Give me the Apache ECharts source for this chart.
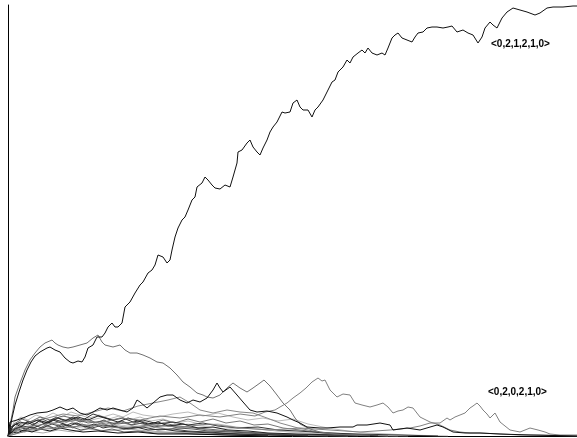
<!DOCTYPE html>
<html>
<head>
<meta charset="utf-8">
<script src="https://cdn.jsdelivr.net/npm/echarts@6/dist/echarts.min.js"></script>
<style>
  html, body { margin: 0; padding: 0; background: #fff; }
  #main { width: 577px; height: 438px; }
</style>
</head>
<body>
<div id="main"></div>
<script>
// runs: [step, value]
var topRun = [[1,2],[4,18],[7,31],[11,44],[15,56],[19,66],[23,74],[27,80],[32,84],[39,88],[42,89],[47,86],[52,84],[57,78],[62,74],[65,73],[70,75],[74,74],[77,79],[80,88],[85,91],[89,99],[94,99],[97,103],[100,109],[104,113],[107,109],[110,109],[114,113],[117,129],[122,134],[127,143],[132,151],[135,154],[140,163],[144,166],[147,171],[150,181],[155,179],[159,173],[162,176],[164,186],[167,199],[170,208],[174,216],[177,219],[180,226],[184,236],[187,239],[189,249],[194,253],[197,259],[200,256],[204,251],[207,248],[212,247],[217,251],[222,249],[225,259],[229,273],[230,284],[234,286],[239,293],[242,296],[245,289],[249,284],[252,281],[255,288],[259,296],[262,304],[265,309],[269,314],[274,324],[277,323],[282,324],[285,333],[289,336],[292,329],[295,326],[300,326],[304,319],[307,326],[310,329],[315,336],[319,344],[324,354],[327,356],[330,364],[335,369],[339,376],[342,373],[345,379],[350,383],[354,386],[357,383],[360,388],[364,383],[369,381],[374,383],[377,381],[380,388],[384,398],[387,401],[390,403],[394,398],[399,396],[404,394],[407,399],[410,403],[415,404],[419,408],[424,409],[429,409],[435,408],[440,409],[444,410],[449,404],[455,406],[460,403],[465,401],[470,393],[474,399],[477,408],[482,414],[485,411],[489,408],[494,418],[499,424],[505,428],[512,426],[519,424],[527,421],[532,423],[539,428],[545,429],[555,429],[565,430],[569,430]];

var humpRun = [[0,0],[2,11],[5,26],[7,39],[12,53],[17,66],[22,76],[27,83],[32,89],[37,93],[44,96],[47,93],[50,91],[55,89],[60,88],[65,89],[72,91],[79,93],[85,98],[90,101],[94,94],[97,91],[105,89],[112,91],[117,86],[122,83],[129,83],[135,81],[142,78],[149,74],[155,73],[162,68],[169,61],[175,54],[182,49],[189,43],[195,41],[199,39],[205,38],[212,41],[219,48],[225,53],[232,48],[239,44],[245,48],[252,53],[256,56],[262,50],[269,41],[275,33],[282,26],[287,18],[292,12],[302,7],[312,4],[327,2],[342,1],[362,0]];

var midGrayRun = [[0,0],[12,8],[32,11],[52,14],[72,16],[92,13],[112,18],[132,16],[152,20],[172,18],[192,21],[212,19],[232,22],[247,20],[257,24],[267,26],[272,29],[279,33],[285,38],[292,43],[298,48],[304,54],[310,58],[314,55],[317,56],[322,46],[329,39],[335,42],[342,41],[347,33],[354,31],[362,29],[369,31],[375,33],[380,29],[385,23],[390,25],[395,26],[400,29],[405,28],[412,19],[422,14],[432,11],[442,6],[452,4],[462,3],[472,3],[492,2],[512,1],[532,1],[569,0]];

var rightGrayRun = [[0,0],[22,6],[52,8],[82,11],[112,8],[142,11],[172,9],[202,12],[232,8],[262,6],[292,8],[322,6],[352,4],[382,6],[402,8],[412,10],[422,13],[432,13],[439,18],[442,16],[447,19],[452,21],[457,23],[462,28],[465,30],[469,33],[472,30],[475,26],[479,22],[482,18],[487,23],[492,14],[497,10],[502,6],[512,4],[517,6],[522,8],[530,6],[537,4],[542,2],[552,1],[569,1]];

var midBlackRun = [[0,0],[2,14],[9,16],[15,18],[22,21],[29,23],[39,24],[45,26],[52,29],[59,26],[65,28],[72,23],[79,21],[85,24],[92,28],[99,26],[105,28],[112,26],[119,24],[125,28],[129,36],[132,34],[139,28],[145,33],[152,39],[159,41],[165,41],[172,36],[179,33],[185,36],[192,34],[199,38],[205,46],[209,53],[212,48],[215,44],[222,49],[229,41],[235,34],[242,26],[249,24],[259,25],[269,23],[279,19],[285,16],[292,13],[299,9],[312,8],[319,8],[332,9],[345,9],[349,11],[359,11],[372,13],[382,11],[385,6],[399,8],[412,6],[429,11],[435,9],[445,4],[457,3],[472,3],[492,2],[522,1],[569,0]];

var lowRunA = [[0,0],[5,10],[12,14],[20,12],[30,16],[40,13],[50,18],[60,15],[70,19],[80,16],[90,20],[100,17],[110,14],[120,18],[130,15],[140,12],[150,14],[160,10],[175,12],[190,8],[205,9],[220,6],[240,5],[260,3],[290,2],[330,1],[370,0]];
var lowRunB = [[0,0],[6,8],[15,12],[25,10],[35,15],[45,12],[60,17],[75,14],[92,18],[105,22],[115,19],[125,24],[135,21],[150,19],[165,22],[180,24],[195,20],[210,23],[225,19],[240,16],[255,18],[270,15],[285,17],[300,12],[320,8],[340,5],[360,3],[400,1],[440,0]];
var lowRunC = [[0,0],[4,6],[10,9],[18,7],[26,11],[34,8],[44,12],[54,9],[64,13],[74,10],[84,8],[95,11],[108,9],[120,7],[135,9],[150,6],[165,7],[180,5],[200,4],[230,2],[260,1],[300,0]];
var lowRunD = [[0,0],[5,5],[12,9],[22,6],[30,10],[40,14],[52,11],[62,15],[72,12],[85,10],[98,13],[110,10],[125,8],[140,10],[160,7],[180,9],[200,6],[220,4],[250,3],[280,1],[320,0]];
var lowRunE = [[0,0],[8,4],[18,7],[28,5],[38,9],[48,6],[60,10],[75,8],[90,12],[105,9],[120,11],[140,8],[160,10],[180,12],[200,9],[220,7],[240,9],[260,6],[280,4],[310,2],[350,1],[400,0]];
var lowRunF = [[0,0],[3,4],[9,3],[16,6],[24,4],[32,7],[42,5],[52,8],[62,6],[75,4],[90,5],[110,3],[130,4],[150,2],[180,2],[220,1],[260,0]];
var lowRunG = [[0,0],[6,12],[14,17],[22,14],[32,19],[42,16],[55,20],[68,17],[80,13],[95,15],[110,12],[125,14],[140,11],[155,13],[170,10],[190,8],[210,6],[235,4],[270,2],[310,1],[350,0]];
var lowRunH = [[0,0],[10,3],[20,5],[35,3],[50,6],[65,4],[80,7],[100,5],[120,7],[140,5],[160,4],[190,3],[230,2],[280,1],[340,0]];
var lowRunI = [[0,0],[7,7],[15,10],[25,8],[35,12],[45,17],[55,14],[65,19],[75,16],[85,22],[95,19],[105,16],[115,18],[125,14],[135,16],[150,12],[165,14],[180,11],[195,13],[210,10],[230,8],[250,9],[270,6],[290,5],[320,3],[350,2],[390,1],[430,0]];
var lowRunJ = [[0,0],[10,12],[25,15],[40,18],[55,22],[70,20],[85,24],[100,28],[115,25],[130,30],[145,33],[160,36],[172,39],[182,33],[192,26],[205,23],[219,26],[232,24],[245,23],[259,18],[272,13],[290,8],[310,4],[340,2],[380,0]];
var lowRunK = [[0,0],[4,8],[9,13],[14,10],[20,15],[27,12],[34,17],[41,14],[48,19],[56,15],[64,18],[72,14],[80,17],[88,13],[96,16],[104,12],[114,15],[124,11],[134,13],[146,9],[158,11],[170,8],[185,7],[200,5],[225,4],[255,2],[300,1],[340,0]];
var lowRunL = [[0,0],[5,3],[11,6],[17,4],[24,8],[31,6],[39,10],[47,7],[56,11],[65,8],[74,12],[83,9],[93,13],[103,10],[113,14],[123,11],[133,15],[143,12],[155,16],[167,13],[180,17],[192,14],[205,17],[218,13],[232,15],[246,11],[260,12],[275,8],[292,6],[315,3],[345,1],[380,0]];
var lowRunM = [[0,0],[3,9],[8,12],[13,9],[19,14],[25,11],[31,15],[38,12],[45,16],[53,13],[61,10],[69,13],[77,9],[86,12],[95,8],[105,10],[116,7],[128,9],[140,6],[154,7],[168,5],[185,4],[205,3],[230,2],[265,1],[300,0]];
var lowRunN = [[0,0],[6,14],[13,19],[20,16],[28,21],[36,18],[45,23],[54,19],[63,24],[72,21],[81,18],[91,21],[101,17],[111,20],[121,16],[132,19],[143,15],[155,17],[167,13],[180,15],[195,11],[210,12],[228,9],[248,7],[270,5],[300,3],[340,1],[390,0]];
var lowRunO = [[0,0],[4,4],[10,7],[16,5],[23,9],[30,7],[38,11],[46,8],[55,12],[64,9],[73,6],[83,8],[93,5],[104,7],[116,4],[130,5],[146,3],[165,3],[190,2],[220,1],[260,0]];

var runLabels = ['<0,2,1,2,1,0>', '<0,2,0,2,1,0>'];

var myChart = echarts.init(document.getElementById('main'));

function run(data, color, z) {
    return {
        type: 'line',
        data: data,
        showSymbol: false,
        symbol: 'none',
        z: z || 2,
        lineStyle: { color: color, width: 1 },
        emphasis: { disabled: true }
    };
}

var option = {
    animation: false,
    backgroundColor: '#fff',
    grid: { left: 8, right: 0, top: 5, bottom: 2 },
    xAxis: {
        type: 'value',
        min: 0,
        max: 569,
        axisLine: { lineStyle: { color: '#000', width: 1 } },
        axisTick: { show: false },
        axisLabel: { show: false },
        splitLine: { show: false }
    },
    yAxis: {
        type: 'value',
        min: 0,
        max: 431,
        axisLine: { show: true, lineStyle: { color: '#000', width: 1 } },
        axisTick: { show: false },
        axisLabel: { show: false },
        splitLine: { show: false }
    },
    series: [
        run(lowRunE, '#cccccc'),
        run(lowRunN, '#bbbbbb'),
        run(lowRunH, '#aaaaaa'),
        run(lowRunB, '#bbbbbb'),
        run(lowRunD, '#999999'),
        run(lowRunL, '#777777'),
        run(lowRunJ, '#888888'),
        run(lowRunG, '#666666'),
        run(lowRunO, '#5a5a5a'),
        run(lowRunK, '#555555'),
        run(lowRunC, '#444444'),
        run(lowRunI, '#333333'),
        run(lowRunM, '#2a2a2a'),
        run(lowRunF, '#111111'),
        run(lowRunA, '#222222'),
        run(rightGrayRun, '#808080'),
        run(midGrayRun, '#808080'),
        run(humpRun, '#707070'),
        run(midBlackRun, '#111111', 3),
        run(topRun, '#111111', 4)
    ],
    graphic: [
        { type: 'text', left: 491, top: 39, style: { text: runLabels[0], font: 'bold 10px "Liberation Sans"', fill: '#000' } },
        { type: 'text', left: 488, top: 387, style: { text: runLabels[1], font: 'bold 10px "Liberation Sans"', fill: '#000' } }
    ]
};

myChart.setOption(option);
</script>
</body>
</html>
